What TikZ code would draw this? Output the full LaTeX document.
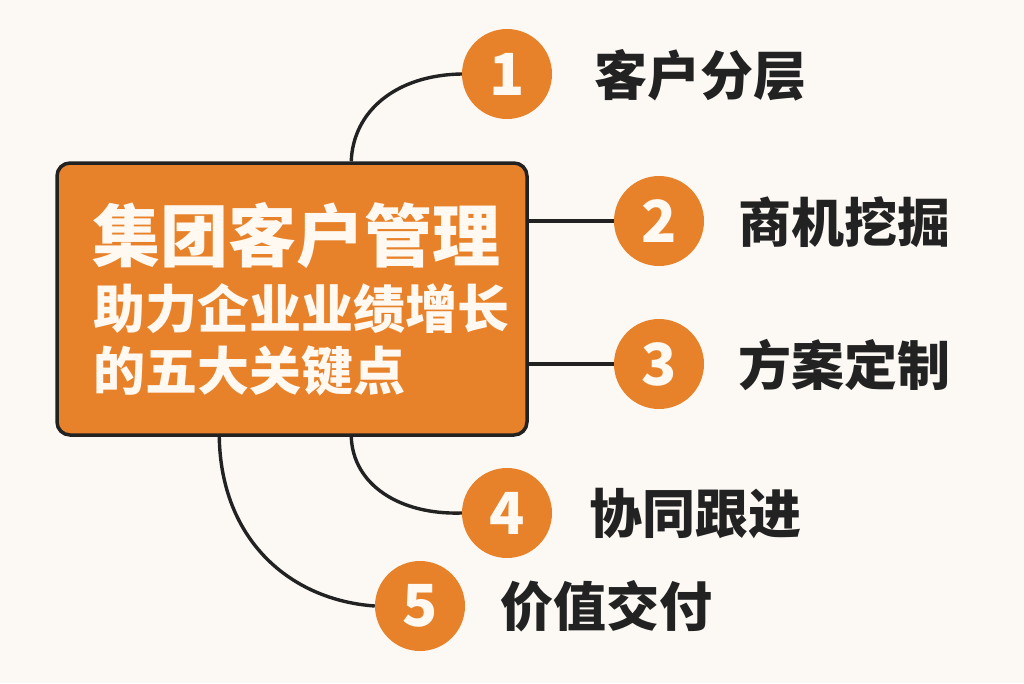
\documentclass[tikz,border=0pt]{standalone}
\usepackage{fontspec}
\newfontfamily\cjk{Noto Sans CJK SC}
\usetikzlibrary{calc}
\definecolor{bgc}{HTML}{FCF9F4}
\definecolor{org}{HTML}{E8822A}
\definecolor{ink}{HTML}{222222}
\definecolor{wht}{HTML}{FFF9F2}
\tikzset{
  numc/.style={circle,fill=org,minimum size=90pt,inner sep=0pt,text=wht,font=\cjk\bfseries\fontsize{58}{58}\selectfont},
  lbl/.style={anchor=west,inner sep=0pt,text=ink,font=\cjk\bfseries\fontsize{53}{53}\selectfont},
  ttl/.style={anchor=west,inner sep=0pt,text=wht},
  conn/.style={draw=ink,line width=3.4pt},
}
\begin{document}
\begin{tikzpicture}[x=1pt,y=-1pt]
\fill[bgc] (0,0) rectangle (1024,683);
\useasboundingbox (0,0) rectangle (1024,683);
\node[draw=ink,line width=3.5pt,fill=org,rounded corners=13pt,minimum width=470pt,minimum height=272pt,inner sep=0pt] (main) at (292,299) {};
\node[ttl,font=\cjk\bfseries\fontsize{68}{68}\selectfont] (t1) at (92,235) {集团客户管理};
\node[ttl,font=\cjk\bfseries\fontsize{52}{52}\selectfont] (t2) at (93,309) {助力企业业绩增长};
\node[ttl,font=\cjk\bfseries\fontsize{52}{52}\selectfont] (t3) at (93,371) {的五大关键点};
\node[numc] (c1) at (507,74) {1};
\node[numc] (c2) at (659,221) {2};
\node[numc] (c3) at (659,364) {3};
\node[numc] (c4) at (507,513) {4};
\node[numc] (c5) at (420,606) {5};
\node[lbl] (l1) at (594,75) {客户分层};
\node[lbl] (l2) at (738,222) {商机挖掘};
\node[lbl] (l3) at (738,365) {方案定制};
\node[lbl] (l4) at (589,513) {协同跟进};
\node[lbl] (l5) at (500,606) {价值交付};
\coordinate (s1) at ($(main.north west)+(296,0)$);
\coordinate (s4) at ($(main.south west)+(296,0)$);
\coordinate (s5) at ($(main.south west)+(164,0)$);
\draw[conn] (s1) .. controls (353,112) and (395,75) .. (c1.west);
\draw[conn] (main.east |- c2) -- (c2.west);
\draw[conn] (main.east |- c3) -- (c3.west);
\draw[conn] (s4) .. controls (353,485) and (400,515) .. (c4.west);
\draw[conn] (s5) .. controls (221,540) and (290,600) .. (c5.west);
\end{tikzpicture}
\end{document}
